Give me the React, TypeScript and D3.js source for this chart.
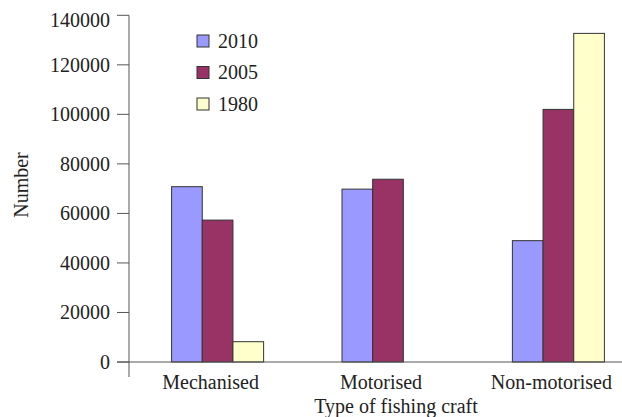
import React, { useEffect, useRef } from 'react';
import * as d3 from 'd3';

const categories = ['Mechanised', 'Motorised', 'Non-motorised'];
const seriesNames = ['2010', '2005', '1980'];
const values2010 = [70800, 69800, 49000];
const values2005 = [57300, 73800, 102000];
const values1980 = [8200, 0, 132700];
const yTicks = [0, 20000, 40000, 60000, 80000, 100000, 120000, 140000];
const colors = ['#9999ff', '#993366', '#ffffcc'];

const App: React.FC = () => {
  const svgRef = useRef<SVGSVGElement>(null);

  useEffect(() => {
    if (!svgRef.current) return;
    const svg = d3.select(svgRef.current);
    svg.selectAll('*').remove();

    const width = 622;
    const height = 417;
    const font = '"Liberation Serif", "Times New Roman", serif';
    const axisColor = '#555';

    const series = [values2010, values2005, values1980];

    const y = d3.scaleLinear().domain([0, 140000]).range([362, 15.3]);
    const x0 = d3.scaleBand<string>()
      .domain(categories)
      .range([129, 647])
      .paddingInner(0.46)
      .paddingOuter(0.25);
    const x1 = d3.scaleBand<string>()
      .domain(seriesNames)
      .range([0, x0.bandwidth()]);

    // bars
    const groups = svg.append('g')
      .selectAll('g')
      .data(categories)
      .enter().append('g')
      .attr('transform', c => `translate(${x0(c)},0)`);

    groups.selectAll('rect')
      .data((c, i) => seriesNames.map((s, j) => ({ s, j, v: series[j][i] })))
      .enter().filter(d => d.v > 0)
      .append('rect')
      .attr('x', d => x1(d.s)!)
      .attr('y', d => y(d.v))
      .attr('width', x1.bandwidth())
      .attr('height', d => y(0) - y(d.v))
      .attr('fill', d => colors[d.j])
      .attr('stroke', '#333')
      .attr('stroke-width', 1);

    // y axis
    const axisX = 129;
    svg.append('line')
      .attr('x1', axisX).attr('x2', axisX)
      .attr('y1', y(140000)).attr('y2', 377)
      .attr('stroke', axisColor).attr('stroke-width', 1);

    const tick = svg.append('g')
      .selectAll('g')
      .data(yTicks)
      .enter().append('g')
      .attr('transform', d => `translate(0,${y(d)})`);
    tick.append('line')
      .attr('x1', 117).attr('x2', axisX)
      .attr('stroke', axisColor).attr('stroke-width', 1);
    tick.append('text')
      .attr('x', 110)
      .attr('dy', d => d === 140000 ? '0.6em' : '0.34em')
      .attr('text-anchor', 'end')
      .style('font-family', font)
      .style('font-size', '20px')
      .style('fill', '#222')
      .text(d => String(d));

    // x axis
    svg.append('line')
      .attr('x1', 117).attr('x2', width)
      .attr('y1', y(0)).attr('y2', y(0))
      .attr('stroke', axisColor).attr('stroke-width', 1);

    svg.append('g')
      .selectAll('text')
      .data(categories)
      .enter().append('text')
      .attr('x', c => x0(c)! + x0.bandwidth() / 2 - 7)
      .attr('y', 389)
      .attr('text-anchor', 'middle')
      .style('font-family', font)
      .style('font-size', '20px')
      .style('fill', '#222')
      .text(c => c);

    svg.append('text')
      .attr('x', 396)
      .attr('y', 413)
      .attr('text-anchor', 'middle')
      .style('font-family', font)
      .style('font-size', '20px')
      .style('fill', '#222')
      .text('Type of fishing craft');

    svg.append('text')
      .attr('transform', 'translate(28,185) rotate(-90)')
      .attr('text-anchor', 'middle')
      .style('font-family', font)
      .style('font-size', '20px')
      .style('fill', '#222')
      .text('Number');

    // legend
    const legend = svg.append('g')
      .selectAll('g')
      .data(seriesNames)
      .enter().append('g')
      .attr('transform', (d, i) => `translate(197,${41 + i * 31.5})`);
    legend.append('rect')
      .attr('x', 0).attr('y', -6)
      .attr('width', 12).attr('height', 12)
      .attr('fill', (d, i) => colors[i])
      .attr('stroke', '#333');
    legend.append('text')
      .attr('x', 21)
      .attr('dy', '0.34em')
      .style('font-family', font)
      .style('font-size', '20px')
      .style('fill', '#222')
      .text(d => d);
  }, []);

  return (
    <svg
      ref={svgRef}
      width={622}
      height={417}
      style={{ position: 'absolute', left: 0, top: 0, background: '#fff' }}
    />
  );
};

export default App;
